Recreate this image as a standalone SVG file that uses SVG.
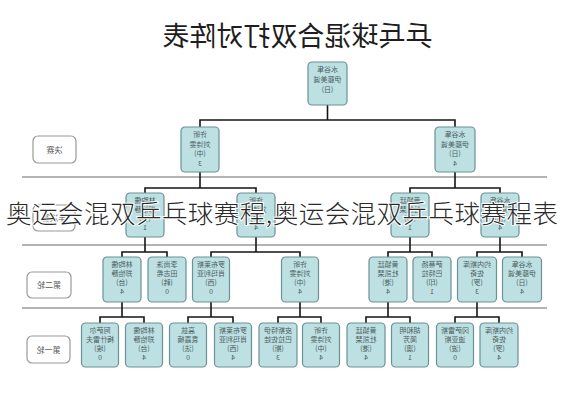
<svg xmlns="http://www.w3.org/2000/svg" width="565" height="400" viewBox="0 0 565 400">
<style>
.box{fill:#bde0e3;stroke:#6b9296;stroke-width:1.2}
.lab{fill:#fff;stroke:#9a9a9a;stroke-width:1.2}
.t{font-family:"Noto Sans CJK SC","Noto Sans",sans-serif;font-size:7px;fill:#4d5e60;text-anchor:middle}
.lt{font-family:"Noto Sans CJK SC","Noto Sans",sans-serif;font-size:8px;fill:#555;text-anchor:middle}
.sep{stroke:#b4b4b4;stroke-width:2;fill:none}
.con{stroke:#151515;stroke-width:1.6;fill:none}
</style>
<rect width="565" height="400" fill="#fff"/>
<g id="title"><text transform="translate(297.5,0) scale(-1,1)" x="0" y="46" font-family="'Noto Sans CJK SC',sans-serif" font-size="27" font-weight="400" fill="#1e1e1e" text-anchor="middle">乒乓球混合双打对阵表</text></g>
<g id="separators">
<line class="sep" x1="22" y1="177" x2="547" y2="177"/>
<line class="sep" x1="22" y1="245" x2="547" y2="245"/>
<line class="sep" x1="22" y1="308" x2="547" y2="308"/>
</g>
<g id="connectors">
<path class="con" d="M327.5,105V120M200,127V120H455V127"/>
<path class="con" d="M200,172V188M145,193V188H256V193M455,172V188M410,193V188H500V193"/>
<path class="con" d="M145,237V252M122,257V252H167V257M256,237V252M211,257V252H300V257M410,237V252M388,257V252H432V257M500,237V252M477,257V252H522V257"/>
<path class="con" d="M122,302V317M100,323V317H144V323M211,302V317M188,323V317H233V323M300,302V317M278,323V317H321V323M388,302V317M366,323V317H410V323M477,302V317M455,323V317H499V323"/>
</g>
<g id="labels">
<g id="lab-final"><rect class="lab" x="33" y="136" width="43" height="27" rx="5"/><text class="lt" transform="translate(54.5,0) scale(-1,1)" y="152.5">决赛</text></g>
<g id="lab-semi"><rect class="lab" x="33" y="205" width="42" height="26" rx="5"/><text class="lt" transform="translate(54,0) scale(-1,1)" y="221">半决赛</text></g>
<g id="lab-r2"><rect class="lab" x="27" y="272" width="44" height="26" rx="5"/><text class="lt" transform="translate(49,0) scale(-1,1)" y="288">第二轮</text></g>
<g id="lab-r1"><rect class="lab" x="27" y="336" width="43" height="27" rx="5"/><text class="lt" transform="translate(48.5,0) scale(-1,1)" y="352.5">第一轮</text></g>
</g>
<g id="champion" transform="translate(327.5,62)"><rect class="box" x="-19.5" y="0" width="39" height="43" rx="4"/><g transform="scale(-1,1)"><text class="t" y="10">水谷隼</text><text class="t" y="20">伊藤美诚</text><text class="t" y="30">(日)</text></g></g>
<g id="f1" transform="translate(200,127)"><rect class="box" x="-19" y="0" width="38" height="45" rx="4"/><g transform="scale(-1,1)"><text class="t" y="10">许昕</text><text class="t" y="19.5">刘诗雯</text><text class="t" y="29">(中)</text><text class="t" y="38.5">3</text></g></g>
<g id="f2" transform="translate(455,127)"><rect class="box" x="-20" y="0" width="40" height="45" rx="4"/><g transform="scale(-1,1)"><text class="t" y="10">水谷隼</text><text class="t" y="19.5">伊藤美诚</text><text class="t" y="29">(日)</text><text class="t" y="38.5">4</text></g></g>
<g id="s1" transform="translate(145,193)"><rect class="box" x="-19" y="0" width="38" height="44" rx="4"/><g transform="scale(-1,1)"><text class="t" y="10">林昀儒</text><text class="t" y="19">郑怡静</text><text class="t" y="28">(台)</text><text class="t" y="37">1</text></g></g>
<g id="s2" transform="translate(256,193)"><rect class="box" x="-19" y="0" width="38" height="44" rx="4"/><g transform="scale(-1,1)"><text class="t" y="10">许昕</text><text class="t" y="19">刘诗雯</text><text class="t" y="28">(中)</text><text class="t" y="37">4</text></g></g>
<g id="s3" transform="translate(410,193)"><rect class="box" x="-19" y="0" width="38" height="44" rx="4"/><g transform="scale(-1,1)"><text class="t" y="10">黄镇廷</text><text class="t" y="19">杜凯琹</text><text class="t" y="28">(港)</text><text class="t" y="37">1</text></g></g>
<g id="s4" transform="translate(500,193)"><rect class="box" x="-19" y="0" width="38" height="44" rx="4"/><g transform="scale(-1,1)"><text class="t" y="10">水谷隼</text><text class="t" y="19">伊藤美诚</text><text class="t" y="28">(日)</text><text class="t" y="37">4</text></g></g>
<g id="r2-1" transform="translate(122,257)"><rect class="box" x="-19" y="0" width="38" height="45" rx="4"/><g transform="scale(-1,1)"><text class="t" y="10">林昀儒</text><text class="t" y="19">郑怡静</text><text class="t" y="28">(台)</text><text class="t" y="37">4</text></g></g>
<g id="r2-2" transform="translate(167,257)"><rect class="box" x="-19" y="0" width="38" height="45" rx="4"/><g transform="scale(-1,1)"><text class="t" y="10">李尚洙</text><text class="t" y="19">田志希</text><text class="t" y="28">(韩)</text><text class="t" y="37">0</text></g></g>
<g id="r2-3" transform="translate(211,257)"><rect class="box" x="-18.5" y="0" width="37" height="45" rx="4"/><g transform="scale(-1,1)"><text class="t" y="10">罗布莱斯</text><text class="t" y="19">肖玛利亚</text><text class="t" y="28">(西)</text><text class="t" y="37">0</text></g></g>
<g id="r2-4" transform="translate(300,257)"><rect class="box" x="-18.5" y="0" width="37" height="45" rx="4"/><g transform="scale(-1,1)"><text class="t" y="10">许昕</text><text class="t" y="19">刘诗雯</text><text class="t" y="28">(中)</text><text class="t" y="37">4</text></g></g>
<g id="r2-5" transform="translate(388,257)"><rect class="box" x="-19" y="0" width="38" height="45" rx="4"/><g transform="scale(-1,1)"><text class="t" y="10">黄镇廷</text><text class="t" y="19">杜凯琹</text><text class="t" y="28">(港)</text><text class="t" y="37">4</text></g></g>
<g id="r2-6" transform="translate(432,257)"><rect class="box" x="-19" y="0" width="38" height="45" rx="4"/><g transform="scale(-1,1)"><text class="t" y="10">萨蒂扬</text><text class="t" y="19">巴特拉</text><text class="t" y="28">(印)</text><text class="t" y="37">1</text></g></g>
<g id="r2-7" transform="translate(477,257)"><rect class="box" x="-19.5" y="0" width="39" height="45" rx="4"/><g transform="scale(-1,1)"><text class="t" y="10">约内斯库</text><text class="t" y="19">佐奇</text><text class="t" y="28">(罗)</text><text class="t" y="37">3</text></g></g>
<g id="r2-8" transform="translate(522,257)"><rect class="box" x="-19.5" y="0" width="39" height="45" rx="4"/><g transform="scale(-1,1)"><text class="t" y="10">水谷隼</text><text class="t" y="19">伊藤美诚</text><text class="t" y="28">(日)</text><text class="t" y="37">4</text></g></g>
<g id="r1-1" transform="translate(100,323)"><rect class="box" x="-18.5" y="0" width="37" height="44" rx="4"/><g transform="scale(-1,1)"><text class="t" y="10">阿萨尔</text><text class="t" y="19">梅什雷夫</text><text class="t" y="28">(埃)</text><text class="t" y="37">0</text></g></g>
<g id="r1-2" transform="translate(144,323)"><rect class="box" x="-18.5" y="0" width="37" height="44" rx="4"/><g transform="scale(-1,1)"><text class="t" y="10">林昀儒</text><text class="t" y="19">郑怡静</text><text class="t" y="28">(台)</text><text class="t" y="37">4</text></g></g>
<g id="r1-3" transform="translate(188,323)"><rect class="box" x="-18.5" y="0" width="37" height="44" rx="4"/><g transform="scale(-1,1)"><text class="t" y="10">高兹</text><text class="t" y="19">袁嘉楠</text><text class="t" y="28">(法)</text><text class="t" y="37">0</text></g></g>
<g id="r1-4" transform="translate(233,323)"><rect class="box" x="-18.5" y="0" width="37" height="44" rx="4"/><g transform="scale(-1,1)"><text class="t" y="10">罗布莱斯</text><text class="t" y="19">肖玛利亚</text><text class="t" y="28">(西)</text><text class="t" y="37">4</text></g></g>
<g id="r1-5" transform="translate(278,323)"><rect class="box" x="-19" y="0" width="38" height="44" rx="4"/><g transform="scale(-1,1)"><text class="t" y="10">皮斯特伊</text><text class="t" y="19">巴拉佐娃</text><text class="t" y="28">(斯)</text><text class="t" y="37">3</text></g></g>
<g id="r1-6" transform="translate(321,323)"><rect class="box" x="-18.5" y="0" width="37" height="44" rx="4"/><g transform="scale(-1,1)"><text class="t" y="10">许昕</text><text class="t" y="19">刘诗雯</text><text class="t" y="28">(中)</text><text class="t" y="37">4</text></g></g>
<g id="r1-7" transform="translate(366,323)"><rect class="box" x="-19" y="0" width="38" height="44" rx="4"/><g transform="scale(-1,1)"><text class="t" y="10">黄镇廷</text><text class="t" y="19">杜凯琹</text><text class="t" y="28">(港)</text><text class="t" y="37">4</text></g></g>
<g id="r1-8" transform="translate(410,323)"><rect class="box" x="-18.5" y="0" width="37" height="44" rx="4"/><g transform="scale(-1,1)"><text class="t" y="10">胡和明</text><text class="t" y="19">简芳</text><text class="t" y="28">(澳)</text><text class="t" y="37">1</text></g></g>
<g id="r1-9" transform="translate(455,323)"><rect class="box" x="-18.5" y="0" width="37" height="44" rx="4"/><g transform="scale(-1,1)"><text class="t" y="10">冈萨雷斯</text><text class="t" y="19">迪亚斯</text><text class="t" y="28">(波)</text><text class="t" y="37">0</text></g></g>
<g id="r1-10" transform="translate(499,323)"><rect class="box" x="-19" y="0" width="38" height="44" rx="4"/><g transform="scale(-1,1)"><text class="t" y="10">约内斯库</text><text class="t" y="19">佐奇</text><text class="t" y="28">(罗)</text><text class="t" y="37">4</text></g></g>
<g id="watermark"><text x="6" y="223" textLength="552" lengthAdjust="spacing" font-family="'Noto Sans CJK SC',sans-serif" font-size="25.5" font-weight="300" fill="#2a2a2a" stroke="#fff" stroke-width="2" paint-order="stroke">奥运会混双乒乓球赛程,奥运会混双乒乓球赛程表</text></g>
</svg>
